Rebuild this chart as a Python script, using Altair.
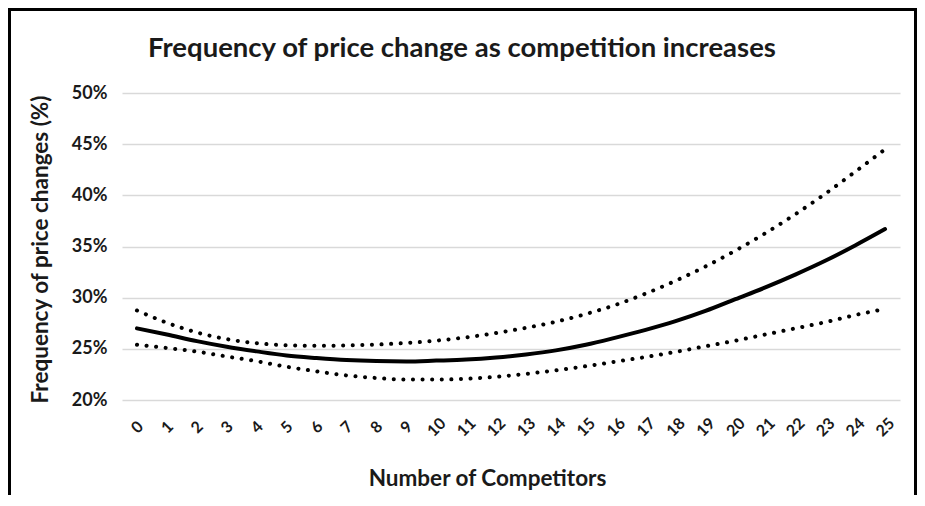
import altair as alt
import pandas as pd

competitors = list(range(26))
central = [27.0, 26.4, 25.75, 25.2, 24.75, 24.35, 24.1, 23.9, 23.8, 23.77, 23.85, 23.95, 24.15,
           24.45, 24.85, 25.4, 26.1, 26.85, 27.7, 28.7, 29.85, 31.0, 32.25, 33.6, 35.1, 36.7]
upper = [28.75, 27.55, 26.6, 25.95, 25.55, 25.35, 25.3, 25.33, 25.42, 25.57, 25.8, 26.12, 26.55,
         27.05, 27.65, 28.4, 29.3, 30.4, 31.65, 33.05, 34.6, 36.3, 38.15, 40.15, 42.3, 44.5]
lower = [25.4, 25.08, 24.73, 24.25, 23.79, 23.25, 22.8, 22.4, 22.15, 22.0, 22.0, 22.07, 22.27,
         22.55, 22.9, 23.3, 23.75, 24.2, 24.7, 25.25, 25.8, 26.4, 27.0, 27.6, 28.3, 28.9]
y_ticks = [20, 25, 30, 35, 40, 45, 50]

FONT = "Lato"
TXT = "#1a1a1a"

main_df = pd.DataFrame({"x": competitors, "y": central})
bounds_df = pd.concat([
    pd.DataFrame({"x": competitors, "y": upper, "s": "upper"}),
    pd.DataFrame({"x": competitors, "y": lower, "s": "lower"}),
])

x_axis = alt.Axis(values=competitors, title="Number of Competitors", grid=False,
                  domain=False, ticks=False, tickSize=0, labelOverlap=False,
                  labelAngle=-45, labelAlign="center", labelBaseline="middle",
                  labelPadding=27, labelFont=FONT, labelFontSize=16,
                  labelFontWeight="bold", labelColor=TXT,
                  titleFont=FONT, titleFontSize=22.5, titleFontWeight="bold",
                  titleColor=TXT, titleX=365, titleY=78,
                  titleBaseline="middle", titleAlign="center")
y_axis = alt.Axis(values=y_ticks, labelExpr="datum.value + '%'",
                  title="Frequency of price changes (%)",
                  grid=True, gridColor="#d9d9d9", gridWidth=1.5,
                  domain=False, ticks=False, tickSize=0, labelPadding=15,
                  labelFont=FONT, labelFontSize=18, labelFontWeight="bold",
                  labelColor=TXT,
                  titleFont=FONT, titleFontSize=22.5, titleFontWeight="bold",
                  titleColor=TXT, titleX=-75, titleY=156, titleAngle=-90,
                  titleBaseline="alphabetic", titleAlign="center")

x_scale = alt.Scale(domain=[-0.5, 25.5], nice=False, zero=False)
y_scale = alt.Scale(domain=[20, 50], nice=False, zero=False)

main_line = alt.Chart(main_df).mark_line(
    color="black", strokeWidth=4, interpolate="monotone", strokeCap="round"
).encode(x=alt.X("x:Q", scale=x_scale, axis=x_axis),
         y=alt.Y("y:Q", scale=y_scale, axis=y_axis))

bound_lines = alt.Chart(bounds_df).mark_line(
    color="black", strokeWidth=4, interpolate="monotone",
    strokeCap="round", strokeDash=[0.1, 9.5]
).encode(x=alt.X("x:Q", scale=x_scale, axis=x_axis),
         y=alt.Y("y:Q", scale=y_scale, axis=y_axis),
         detail="s:N")

frame = alt.Chart(main_df).mark_rect(
    fill=None, stroke="black", strokeWidth=2.5
).encode(x=alt.value(-112.5), x2=alt.value(794), y=alt.value(-83.5), y2=alt.value(430))

chart = alt.layer(main_line, bound_lines, frame).properties(
    width=778, height=307,
    padding={"left": 114, "top": 85, "right": 17, "bottom": 95},
    autosize=alt.AutoSizeParams(type="none"),
    title=alt.TitleParams(
        "Frequency of price change as competition increases",
        anchor="middle", dx=-49, offset=-76, baseline="alphabetic",
        font=FONT, fontSize=27.5, fontWeight="bold", color=TXT),
).configure_view(stroke=None).configure_axisX(labelOverlap=False)

chart.save("out.html", embed_options={"renderer": "svg", "actions": False})
